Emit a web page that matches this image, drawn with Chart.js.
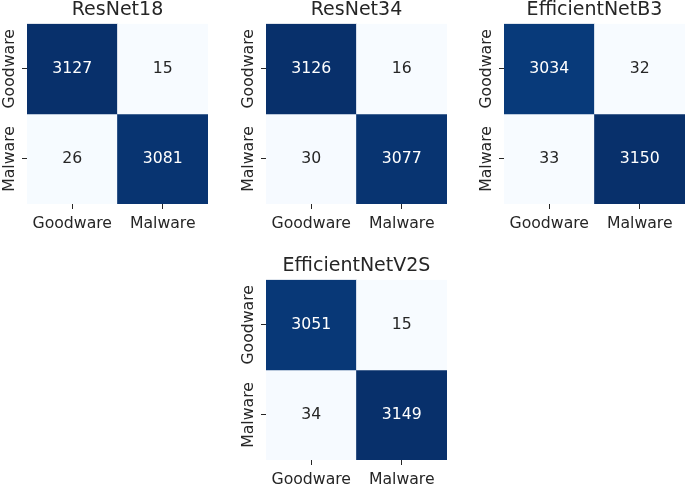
<!DOCTYPE html>
<html>
<head>
<meta charset="utf-8">
<script src="https://cdn.jsdelivr.net/npm/chart.js@4.4.1/dist/chart.umd.min.js"></script>
<style>
  html, body { margin: 0; padding: 0; background: #fff; overflow: hidden; }
  body { width: 685px; height: 484px; position: relative; }
  canvas { position: absolute; }
</style>
</head>
<body>
<canvas id="c0" width="212" height="245"></canvas>
<canvas id="c1" width="212" height="245"></canvas>
<canvas id="c2" width="212" height="245"></canvas>
<canvas id="c3" width="212" height="245"></canvas>
<script>
"use strict";

const models = ["ResNet18", "ResNet34", "EfficientNetB3", "EfficientNetV2S"];
const classes = ["Goodware", "Malware"];

// rows = true class, columns = predicted class
const resnet18 = [[3127, 15], [26, 3081]];
const resnet34 = [[3126, 16], [30, 3077]];
const effB3 = [[3034, 32], [33, 3150]];
const effV2S = [[3051, 15], [34, 3149]];

const matrices = [resnet18, resnet34, effB3, effV2S];
const positions = [[0, -1], [239, -1], [477, -1], [239, 255]];

const textColor = "#262626";
const fontFamily = "'DejaVu Sans', sans-serif";

// matplotlib "Blues"
const blues = [
	[247, 251, 255], [222, 235, 247], [198, 219, 239], [158, 202, 225],
	[107, 174, 214], [66, 146, 198], [33, 113, 181], [8, 81, 156], [8, 48, 107]
];

function bluesColor(t) {
	t = Math.max(0, Math.min(1, t));
	const p = t * (blues.length - 1);
	const i = Math.min(Math.floor(p), blues.length - 2);
	const f = p - i;
	return blues[i].map((v, k) => Math.round(v + (blues[i + 1][k] - v) * f));
}

function isDark(c) {
	const lin = c.map(v => {
		v = v / 255;
		return v <= 0.03928 ? v / 12.92 : Math.pow((v + 0.055) / 1.055, 2.4);
	});
	return 0.2126 * lin[0] + 0.7152 * lin[1] + 0.0722 * lin[2] < 0.408;
}

const cellText = {
	id: "cellText",
	afterDatasetsDraw(chart) {
		const {ctx, scales: {x, y}} = chart;
		const m = chart.config.options.matrix;
		const flat = m.flat();
		const lo = Math.min(...flat), hi = Math.max(...flat);
		ctx.save();
		ctx.font = "15.7px " + fontFamily;
		ctx.textAlign = "center";
		ctx.textBaseline = "middle";
		m.forEach((row, r) => {
			row.forEach((v, c) => {
				const col = bluesColor((v - lo) / (hi - lo));
				ctx.fillStyle = isDark(col) ? "#ffffff" : textColor;
				ctx.fillText(String(v), x.getPixelForValue(c), y.getPixelForValue(r + 0.5));
			});
		});
		ctx.restore();
	}
};

const yLabels = {
	id: "yLabels",
	afterDraw(chart) {
		const {ctx, scales: {y}, chartArea} = chart;
		ctx.save();
		ctx.font = "15.7px " + fontFamily;
		ctx.fillStyle = textColor;
		ctx.textAlign = "center";
		ctx.textBaseline = "middle";
		classes.forEach((lab, i) => {
			ctx.save();
			ctx.translate(chartArea.left - 17, y.getPixelForValue(i + 0.5));
			ctx.rotate(-Math.PI / 2);
			ctx.fillText(lab, 0, 0);
			ctx.restore();
		});
		ctx.restore();
	}
};

matrices.forEach((m, idx) => {
	const canvas = document.getElementById("c" + idx);
	canvas.style.left = positions[idx][0] + "px";
	canvas.style.top = positions[idx][1] + "px";
	const flat = m.flat();
	const lo = Math.min(...flat), hi = Math.max(...flat);

	new Chart(canvas, {
		type: "bar",
		data: {
			labels: classes,
			datasets: m.map((row, r) => ({
				data: row.map(() => [r, r + 1]),
				backgroundColor: row.map(v => "rgb(" + bluesColor((v - lo) / (hi - lo)).join(",") + ")"),
				borderWidth: 0,
				categoryPercentage: 1,
				barPercentage: 1,
				grouped: false,
			})),
		},
		options: {
			matrix: m,
			responsive: false,
			animation: false,
			events: [],
			// y labels live in the left padding so the title centres over the heatmap
			layout: { padding: { left: 27, right: 4, top: 0, bottom: 0 } },
			plugins: {
				legend: { display: false },
				tooltip: { enabled: false },
				title: {
					display: true,
					text: models[idx],
					color: textColor,
					font: { family: fontFamily, size: 19, weight: "normal" },
					padding: { top: 0, bottom: 2 },
				},
			},
			scales: {
				x: {
					grid: { offset: false, drawOnChartArea: false, drawTicks: true, tickLength: 5, color: textColor, tickWidth: 1 },
					border: { display: false },
					ticks: { color: textColor, font: { family: fontFamily, size: 15.7 }, padding: 6, maxRotation: 0 },
					afterFit(scale) { scale.height = 40; },
				},
				y: {
					min: 0,
					max: 2,
					reverse: true,
					afterBuildTicks(scale) { scale.ticks = [{ value: 0.5 }, { value: 1.5 }]; },
					grid: { drawOnChartArea: false, drawTicks: true, tickLength: 5, color: textColor, tickWidth: 1 },
					border: { display: false },
					ticks: { display: false },
					afterFit(scale) { scale.width = 0; },
				},
			},
		},
		plugins: [cellText, yLabels],
	});
});
</script>
</body>
</html>
